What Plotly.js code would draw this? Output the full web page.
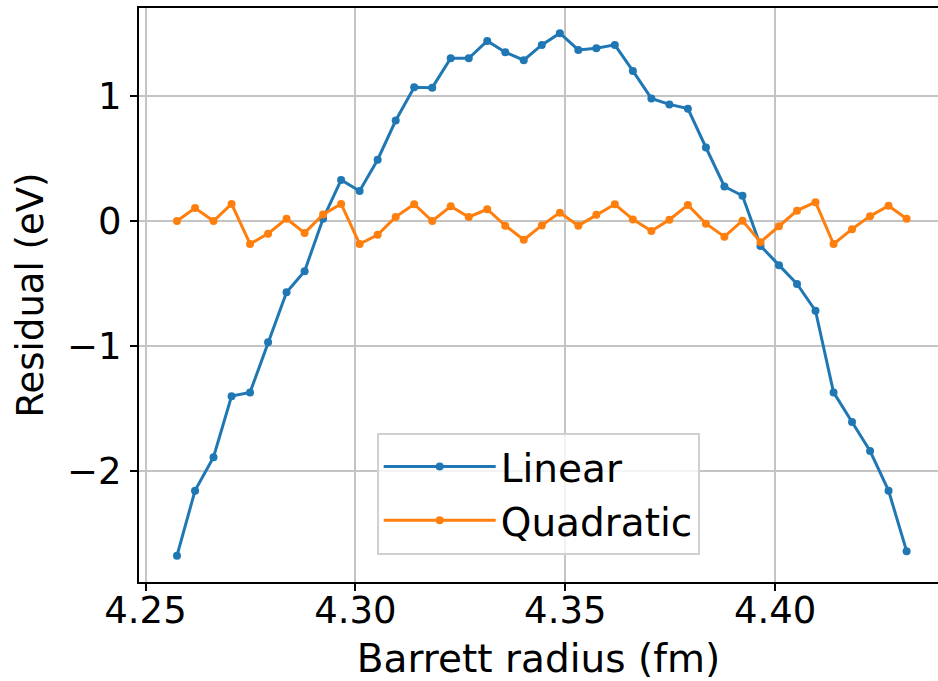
<!DOCTYPE html>
<html>
<head>
<meta charset="utf-8">
<script src="https://cdn.plot.ly/plotly-3.0.1.min.js"></script>
<style>html,body{margin:0;padding:0;background:#fff;}#chart{width:938px;height:681px;}</style>
</head>
<body>
<div id="chart"></div>
<script>
const radius = [4.2575, 4.2618, 4.2662, 4.2705, 4.2749, 4.2792, 4.2836, 4.2879, 4.2923, 4.2966,
  4.3010, 4.3053, 4.3096, 4.3140, 4.3183, 4.3227, 4.3270, 4.3314, 4.3357, 4.3401,
  4.3444, 4.3487, 4.3531, 4.3574, 4.3618, 4.3661, 4.3705, 4.3748, 4.3792, 4.3835,
  4.3879, 4.3922, 4.3965, 4.4009, 4.4052, 4.4096, 4.4139, 4.4183, 4.4226, 4.4270, 4.4313];

const linearResidual = [-2.677, -2.157, -1.890, -1.401, -1.371, -0.970, -0.570, -0.401, 0.018, 0.329,
  0.240, 0.490, 0.804, 1.070, 1.067, 1.302, 1.302, 1.441, 1.350, 1.286,
  1.409, 1.503, 1.369, 1.382, 1.409, 1.201, 0.981, 0.933, 0.899, 0.588,
  0.276, 0.202, -0.199, -0.353, -0.504, -0.718, -1.371, -1.608, -1.840, -2.157, -2.641];

const quadraticResidual = [0.000, 0.104, 0.000, 0.137, -0.184, -0.101, 0.018, -0.095, 0.053, 0.137,
  -0.184, -0.110, 0.033, 0.134, 0.000, 0.118, 0.032, 0.094, -0.037, -0.150,
  -0.035, 0.067, -0.037, 0.051, 0.134, 0.013, -0.080, 0.010, 0.128, -0.021,
  -0.125, 0.003, -0.169, -0.042, 0.083, 0.151, -0.184, -0.065, 0.039, 0.122, 0.018];

const seriesNames = ["Linear", "Quadratic"];
const xTicks = [4.25, 4.30, 4.35, 4.40];
const yTicks = [-2, -1, 0, 1];
const xTitle = "Barrett radius (fm)";
const yTitle = "Residual (eV)";

const FONT = "DejaVu Sans, Verdana, sans-serif";

const traces = [
  {x: radius, y: linearResidual, name: seriesNames[0], type: "scatter", mode: "lines+markers",
   line: {color: "#1f77b4", width: 3}, marker: {color: "#1f77b4", size: 8}},
  {x: radius, y: quadraticResidual, name: seriesNames[1], type: "scatter", mode: "lines+markers",
   line: {color: "#ff7f0e", width: 3}, marker: {color: "#ff7f0e", size: 8}}
];

const layout = {
  width: 938, height: 681,
  margin: {l: 139, r: 0, t: 8, b: 99, pad: 0},
  paper_bgcolor: "#ffffff", plot_bgcolor: "#ffffff",
  font: {family: FONT, size: 37, color: "#000000"},
  showlegend: true,
  legend: {
    x: 0.2975, y: 0.26, xanchor: "left", yanchor: "top",
    bgcolor: "rgba(255,255,255,0.8)", bordercolor: "#d0d0d0", borderwidth: 2,
    font: {family: FONT, size: 39, color: "#000000"},
    itemwidth: 112
  },
  xaxis: {
    range: [4.24845, 4.43878],
    tickvals: xTicks, tickformat: ".2f",
    showgrid: true, gridcolor: "#c4c4c4", gridwidth: 2,
    zeroline: false,
    showline: true, linecolor: "#000000", linewidth: 2, mirror: true,
    ticks: "outside", ticklen: 7, tickwidth: 2, tickcolor: "#000000",
    tickfont: {family: FONT, size: 37, color: "#000000"},
    ticklabelstandoff: -12,
    title: {text: xTitle, font: {family: FONT, size: 39, color: "#000000"}, standoff: 14},
    automargin: false
  },
  yaxis: {
    range: [-2.888, 1.704],
    tickvals: yTicks,
    showgrid: true, gridcolor: "#c4c4c4", gridwidth: 2,
    zeroline: false,
    showline: true, linecolor: "#000000", linewidth: 2, mirror: false,
    ticks: "outside", ticklen: 7, tickwidth: 2, tickcolor: "#000000",
    tickfont: {family: FONT, size: 37, color: "#000000"},
    ticklabelstandoff: 1,
    title: {text: yTitle, font: {family: FONT, size: 37, color: "#000000"}, standoff: 12},
    automargin: false
  }
};

Plotly.newPlot("chart", traces, layout, {displayModeBar: false, staticPlot: true});
</script>
</body>
</html>
